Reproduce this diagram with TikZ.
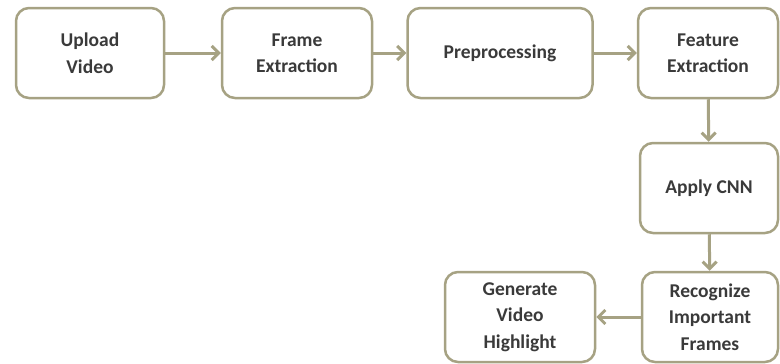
\documentclass[tikz,border=0pt]{standalone}
\usepackage{fontspec}
\setmainfont{Carlito}
\usetikzlibrary{arrows.meta}
\definecolor{olive}{HTML}{A6A283}
\definecolor{ink}{HTML}{3A3A3A}
\newcommand{\stage}[6]{\node[draw=olive,line width=2.5pt,rounded corners=13pt,fill=white,align=center,text=ink,font=\bfseries\fontsize{19.5}{26.5}\selectfont,minimum width=#4pt,minimum height=#5pt] (#1) at (#2,#3) {#6};}
\newcommand{\flow}[2]{\draw[olive,line width=3pt,-{Straight Barb[length=7pt,width=14pt]}] (#1) -- (#2);}

\begin{document}
\begin{tikzpicture}[x=1pt,y=-1pt]
    \useasboundingbox (0,0) rectangle (780,364);
    \stage{upload}{90}{53}{148}{90}{Upload\\Video}
    \stage{frames}{297}{53}{150}{90}{Frame\\Extraction}
    \stage{prep}{500}{53}{185}{90}{Preprocessing}
    \stage{feat}{708}{53}{140}{90}{Feature\\Extraction}
    \stage{cnn}{709}{188}{138}{90}{Apply CNN}
    \stage{recog}{710}{317}{136}{90}{Recognize\\Important\\Frames}
    \stage{gen}{520}{317}{150}{90}{Generate\\Video\\Highlight}
    \flow{upload}{frames}\flow{frames}{prep}\flow{prep}{feat}
    \flow{feat}{cnn}\flow{cnn}{recog}\flow{recog}{gen}
\end{tikzpicture}
\end{document}
